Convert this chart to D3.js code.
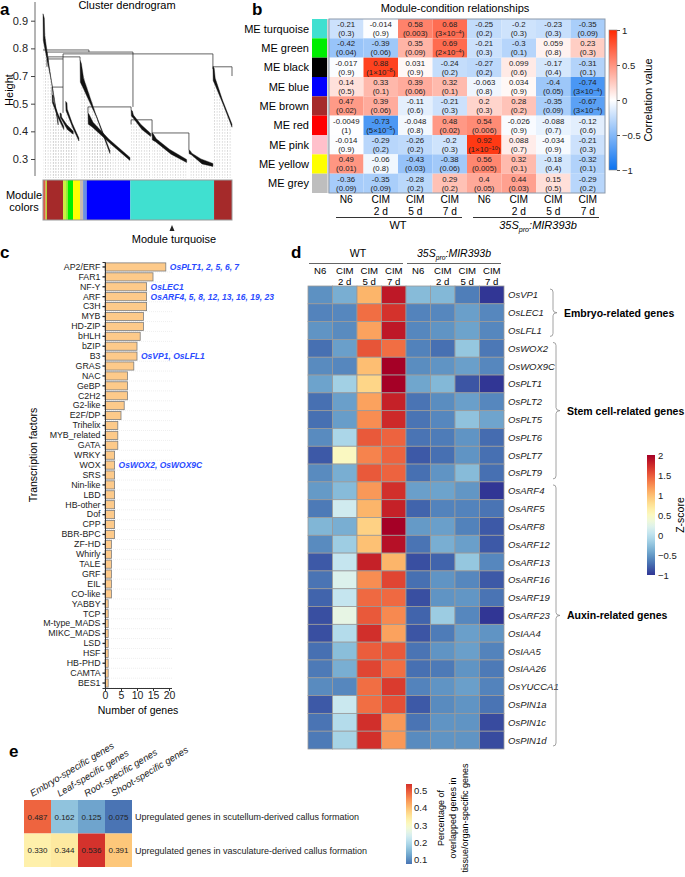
<!DOCTYPE html>
<html><head><meta charset="utf-8">
<script src="https://cdn.jsdelivr.net/npm/d3@7/dist/d3.min.js"></script>
<style>
body{margin:0;background:#fff}
svg{font-family:"Liberation Sans",Arial,Helvetica,sans-serif;}
</style></head><body>
<svg id="fig" width="685" height="877"></svg>
<script>
// ---------------- Panel a data ----------------
const dendroTickLabels = ["0.9","0.8","0.7","0.5","0.4","0.3"];
const dendroLinks = [
  {h:0.773,a:0,b:24.3,ha:0.773,hb:0.764},
  {h:0.764,a:2.1,b:47.6,ha:0.743,hb:0.526},
  {h:0.756,a:10.6,b:89.9,ha:0.734,hb:0.703},
  {h:0.743,a:2.6,b:19.6,ha:0.72,hb:0.73},
  {h:0.734,a:2.1,b:10.6,ha:0.70,hb:0.612},
  {h:0.612,a:4.8,b:10.6,ha:0.58,hb:0.50},
  {h:0.526,a:23.8,b:46.6,ha:0.50,hb:0.513},
  {h:0.47,a:46.6,b:57.7,ha:0.45,hb:0.413},
  {h:0.413,a:57.7,b:77.2,ha:0.40,hb:0.339},
  {h:0.70,a:89.9,b:100,ha:0.69,hb:0.66}
];
const dendroWedges = [
  {x0:0,h0:0.93,x1:8,h1:0.45},
  {x0:4.8,h0:0.58,x1:11,h1:0.43},
  {x0:9,h0:0.50,x1:16,h1:0.41},
  {x0:12,h0:0.55,x1:19,h1:0.38},
  {x0:19.6,h0:0.73,x1:35.4,h1:0.326},
  {x0:23.8,h0:0.50,x1:46,h1:0.296},
  {x0:46.6,h0:0.513,x1:57,h1:0.40},
  {x0:57.7,h0:0.413,x1:76,h1:0.287},
  {x0:77.2,h0:0.339,x1:89.9,h1:0.27},
  {x0:89.9,h0:0.703,x1:100,h1:0.44}
];
const moduleBarStarts = [0,1.4,2.1,10.6,12.2,13.2,15.9,19.6,21.2,23.1,46.2,90.5];
const moduleBarEnds   = [1.4,2.1,10.6,12.2,13.2,15.9,19.6,21.2,23.1,46.2,90.5,100];
const moduleBarColors = ["#e0584a","#b8d830","#a52a2a","#c8f040","#90ee30","#00ee00","#ffff00","#c8b8b0","#6a8fe0","#0000ff","#40e0d0","#a52a2a"];

// ---------------- Panel b data ----------------
const modules = ["ME turquoise","ME green","ME black","ME blue","ME brown","ME red","ME pink","ME yellow","ME grey"];
const moduleColors = ["#40E0D0","#00EE00","#000000","#0000FF","#A52A2A","#FF0000","#FFC0CB","#FFFF00","#BEBEBE"];
const condTop = ["N6","CIM","CIM","CIM","N6","CIM","CIM","CIM"];
const condBottom = ["","2 d","5 d","7 d","","2 d","5 d","7 d"];
const corrValues = [
  ["-0.21","-0.014","0.58","0.68","-0.25","-0.2","-0.23","-0.35"],
  ["-0.42","-0.39","0.35","0.69","-0.21","-0.3","0.059","0.23"],
  ["-0.017","0.88","0.031","-0.24","-0.27","0.099","-0.17","-0.31"],
  ["0.14","0.33","0.39","0.32","-0.063","0.034","-0.4","-0.74"],
  ["0.47","0.39","-0.11","-0.21","0.2","0.28","-0.35","-0.67"],
  ["-0.0049","-0.73","-0.048","0.48","0.54","-0.026","-0.088","-0.12"],
  ["-0.014","-0.29","-0.26","-0.2","0.92","0.088","-0.034","-0.21"],
  ["0.49","-0.06","-0.43","-0.38","0.56","0.32","-0.18","-0.32"],
  ["-0.36","-0.35","-0.28","0.29","0.4","0.44","0.15","-0.29"]
];
const corrP = [
  ["0.3","0.9","0.003","3e-4","0.2","0.3","0.3","0.09"],
  ["0.04","0.06","0.09","2e-4","0.3","0.1","0.8","0.3"],
  ["0.9","1e-8","0.9","0.2","0.2","0.6","0.4","0.1"],
  ["0.5","0.1","0.06","0.1","0.8","0.9","0.05","3e-4"],
  ["0.02","0.06","0.6","0.3","0.3","0.2","0.09","3e-4"],
  ["1","5e-5","0.8","0.02","0.006","0.9","0.7","0.6"],
  ["0.9","0.2","0.2","0.3","1e-10","0.7","0.9","0.3"],
  ["0.01","0.8","0.03","0.06","0.005","0.1","0.4","0.1"],
  ["0.09","0.09","0.2","0.2","0.05","0.03","0.5","0.2"]
];
const corrTicks = [1,0.5,0,-0.5,-1];

// ---------------- Panel c data ----------------
const tfNames = ["AP2/ERF","FAR1","NF-Y","ARF","C3H","MYB","HD-ZIP","bHLH","bZIP","B3","GRAS","NAC","GeBP","C2H2","G2-like","E2F/DP","Trihelix","MYB_related","GATA","WRKY","WOX","SRS","Nin-like","LBD","HB-other","Dof","CPP","BBR-BPC","ZF-HD","Whirly","TALE","GRF","EIL","CO-like","YABBY","TCP","M-type_MADS","MIKC_MADS","LSD","HSF","HB-PHD","CAMTA","BES1"];
const tfCounts = [19,15,13,13,13,12,12,11,10,10,9,7,7,7,6,5,4,4,4,3,3,3,3,3,3,3,3,3,2,2,2,2,2,2,1,1,1,1,1,1,1,1,1];
const tfNoteFamilies = ["AP2/ERF","NF-Y","ARF","B3","WOX"];
const tfNoteTexts = ["OsPLT1, 2, 5, 6, 7","OsLEC1","OsARF4, 5, 8, 12, 13, 16, 19, 23","OsVP1, OsLFL1","OsWOX2, OsWOX9C"];
const geneTicks = [0,5,10,15,20];

// ---------------- Panel d data ----------------
const genes = ["OsVP1","OsLEC1","OsLFL1","OsWOX2","OsWOX9C","OsPLT1","OsPLT2","OsPLT5","OsPLT6","OsPLT7","OsPLT9","OsARF4","OsARF5","OsARF8","OsARF12","OsARF13","OsARF16","OsARF19","OsARF23","OsIAA4","OsIAA5","OsIAA26","OsYUCCA1","OsPIN1a","OsPIN1c","OsPIN1d"];
const zScores = [
  [-0.55,-0.38,1.05,1.85,-0.3,-0.32,-0.65,-1.0],
  [-0.62,-0.6,1.4,1.7,-0.62,-0.6,-0.47,-0.6],
  [-0.53,-0.58,1.15,1.85,-0.6,-0.53,-0.45,-0.6],
  [-0.72,-0.47,1.52,1.4,-0.63,-0.72,-0.22,-0.68],
  [-0.58,-0.6,1.0,2.0,-0.57,-0.53,-0.47,-0.6],
  [-0.45,-0.15,0.85,2.0,-0.43,-0.32,-0.85,-1.0],
  [-0.72,-0.47,1.15,1.8,-0.7,-0.57,-0.47,-0.6],
  [-0.72,-0.48,1.25,1.75,-0.7,-0.6,-0.25,-0.44],
  [-0.58,-0.1,1.5,1.45,-0.7,-0.66,-0.53,-0.74],
  [-0.83,0.5,1.3,1.45,-0.83,-0.72,-0.53,-0.72],
  [-0.58,-0.38,1.5,1.45,-0.72,-0.53,-0.3,-0.72],
  [-0.5,-0.3,1.2,1.72,-0.47,-0.45,-0.52,-1.0],
  [-0.67,0.12,1.05,1.8,-0.78,-0.62,-0.62,-0.7],
  [-0.33,-0.38,0.88,2.0,-0.5,-0.47,-0.63,-0.83],
  [-0.58,-0.17,0.98,1.9,-0.7,-0.38,-0.47,-0.83],
  [-0.83,0.05,1.8,1.05,-0.88,-0.78,-0.22,-0.6],
  [-0.7,0.2,1.25,1.6,-0.72,-0.53,-0.6,-0.83],
  [-0.78,0.05,1.42,1.42,-0.88,-0.53,-0.52,-0.7],
  [-0.88,0.28,1.5,1.27,-0.78,-0.18,-0.6,-1.0],
  [-0.88,-0.05,1.72,1.15,-0.85,-0.66,-0.47,-0.53],
  [-0.72,-0.28,1.48,1.5,-0.7,-0.53,-0.47,-0.62],
  [-0.67,-0.38,1.6,1.4,-0.72,-0.67,-0.53,-0.67],
  [-0.58,-0.6,1.4,1.65,-0.62,-0.53,-0.47,-0.62],
  [-0.83,0.08,1.4,1.55,-0.83,-0.58,-0.53,-0.7],
  [-0.7,-0.05,1.72,1.2,-0.7,-0.53,-0.53,-0.9],
  [-0.67,-0.12,1.72,1.2,-0.58,-0.53,-0.53,-0.9]
];
const zTicks = [2,1.5,1,0.5,0,-0.5,-1];
const geneGroups = ["Embryo-related genes","Stem cell-related genes","Auxin-related genes"];
const geneGroupFirst = ["OsVP1","OsWOX2","OsARF4"];
const geneGroupLast = ["OsLFL1","OsPLT9","OsPIN1d"];

// ---------------- Panel e data ----------------
const tissues = ["Embryo-specific genes","Leaf-specific genes","Root-specific genes","Shoot-specific genes"];
const callusSets = ["Upregulated genes in scutellum-derived callus formation","Upregulated genes in vasculature-derived callus formation"];
const overlap = [[0.487,0.162,0.125,0.075],[0.330,0.344,0.536,0.391]];
const overlapTicks = [0.5,0.4,0.3,0.2,0.1];

// =====================================================
const svg = d3.select("#fig");
const defs = svg.append("defs");
function label(t,x,y){svg.append("text").attr("x",x).attr("y",y).attr("font-size",17).attr("font-weight","bold").text(t);}

// ---------------- Panel a ----------------
label("a",0,15);
const gA = svg.append("g");
const ax = d3.scaleLinear().domain([0,100]).range([43,232]);
const ay = d3.scaleLinear().domain([0.3,0.9]).range([159,20.7]);
const tickPos = d3.scalePoint().domain(dendroTickLabels).range([20.7,159]);
const pat = defs.append("pattern").attr("id","leafpat").attr("patternUnits","userSpaceOnUse").attr("width",2.6).attr("height",3);
pat.append("line").attr("x1",1.3).attr("x2",1.3).attr("y1",0).attr("y2",1.8).attr("stroke","#c4c4c4").attr("stroke-width",0.6);

gA.append("text").attr("x",127).attr("y",9).attr("text-anchor","middle").attr("font-size",11).text("Cluster dendrogram");
gA.append("line").attr("x1",35).attr("x2",35).attr("y1",2).attr("y2",176).attr("stroke","#444").attr("stroke-width",0.8);
const yAx = gA.append("g").attr("transform","translate(35,0)").call(d3.axisLeft(tickPos).tickSize(4).tickPadding(3));
yAx.select(".domain").remove();
yAx.selectAll("line").attr("stroke","#444");
yAx.selectAll("text").attr("font-size",11).attr("font-family","Liberation Sans, Arial, sans-serif").attr("fill","#222");
gA.append("text").attr("transform","translate(13,90) rotate(-90)").attr("text-anchor","middle").attr("font-size",11).text("Height");

gA.selectAll("polygon.guide").data(dendroWedges).join("polygon").attr("class","guide")
  .attr("points",d=>[[ax(d.x0),ay(d.h0)+4],[ax(d.x1),ay(d.h1)],[ax(d.x1),178],[ax(d.x0),178]].map(p=>p.join(",")).join(" "))
  .attr("fill","url(#leafpat)");
gA.selectAll("path.link").data(dendroLinks).join("path").attr("class","link")
  .attr("d",d=>`M${ax(d.a)},${ay(d.ha)}V${ay(d.h)}H${ax(d.b)}V${ay(d.hb)}`)
  .attr("fill","none").attr("stroke","#222").attr("stroke-width",0.7);
gA.selectAll("polygon.wedge").data(dendroWedges).join("polygon").attr("class","wedge")
  .attr("points",d=>{
    const x0=ax(d.x0),y0=ay(d.h0),x1=ax(d.x1),y1=ay(d.h1),w=x1-x0,h=y1-y0;
    return [[x0,y0],[x0+1.3,y0+h*0.04],[x0+w*0.12,y0+h*0.2],[x0+w*0.5,y0+h*0.56],[x1,y1-2.5],
            [x1,y1+0.5],[x0+w*0.55,y0+h*0.56+5],[x0+w*0.1,y0+h*0.3],[x0+0.3,y0+h*0.24]].map(p=>p.join(",")).join(" ");
  }).attr("fill","#111").attr("stroke","#111").attr("stroke-width",0.4);
gA.selectAll("rect.mod").data(moduleBarColors).join("rect").attr("class","mod")
  .attr("x",(d,i)=>ax(moduleBarStarts[i])).attr("width",(d,i)=>ax(moduleBarEnds[i])-ax(moduleBarStarts[i]))
  .attr("y",180).attr("height",40).attr("fill",d=>d);
gA.append("rect").attr("x",43).attr("y",180).attr("width",189).attr("height",40).attr("fill","none").attr("stroke","#999").attr("stroke-width",1);
gA.append("text").attr("x",24).attr("y",199).attr("text-anchor","middle").attr("font-size",11).text("Module");
gA.append("text").attr("x",24).attr("y",211).attr("text-anchor","middle").attr("font-size",11).text("colors");
gA.append("path").attr("d","M172,225L169.5,231L174.5,231Z").attr("fill","#222");
gA.append("text").attr("x",174).attr("y",243).attr("text-anchor","middle").attr("font-size",11).text("Module turquoise");

// ---------------- Panel b ----------------
label("b",252,15);
const gB = svg.append("g");
const bx = d3.scaleBand().domain(d3.range(8)).range([329,605]);
const by = d3.scaleBand().domain(modules).range([19,193]);
const corrColor = d3.scaleLinear().domain([-1,0,1]).range(["#0a72f0","#ffffff","#ff2800"]);
gB.append("text").attr("x",455).attr("y",12).attr("text-anchor","middle").attr("font-size",11).text("Module-condition relationships");
gB.selectAll("rect.mc").data(modules).join("rect").attr("class","mc")
  .attr("x",312).attr("width",15).attr("y",d=>by(d)).attr("height",by.bandwidth()).attr("fill",(d,i)=>moduleColors[i]);
gB.append("rect").attr("x",327).attr("y",19).attr("width",2).attr("height",174).attr("fill","#d8d8d8");
gB.selectAll("text.rl").data(modules).join("text").attr("class","rl")
  .attr("x",309).attr("y",d=>by(d)+by.bandwidth()/2+4).attr("text-anchor","end").attr("font-size",11).text(d=>d);
const cells = [];
corrValues.forEach((row,i)=>row.forEach((v,j)=>cells.push({i,j,v,p:corrP[i][j]})));
gB.selectAll("rect.cell").data(cells).join("rect").attr("class","cell")
  .attr("x",d=>bx(d.j)).attr("y",d=>by(modules[d.i])).attr("width",bx.bandwidth()).attr("height",by.bandwidth())
  .attr("fill",d=>corrColor(+d.v));
gB.append("rect").attr("x",329).attr("y",19).attr("width",276).attr("height",174).attr("fill","none").attr("stroke","#8c9aab").attr("stroke-width",1);
const ct = gB.selectAll("g.ct").data(cells).join("g").attr("class","ct")
  .attr("transform",d=>`translate(${bx(d.j)+bx.bandwidth()/2},${by(modules[d.i])})`);
ct.append("text").attr("y",8).attr("text-anchor","middle").attr("font-size",7.8).attr("fill","#222").text(d=>d.v);
ct.each(function(d){
  const t = d3.select(this).append("text").attr("y",17).attr("text-anchor","middle").attr("font-size",7.8).attr("fill","#222");
  if(d.p.includes("e")){
    const [m,e]=d.p.split("e");
    t.append("tspan").text("("+m+"×10");
    t.append("tspan").attr("dy",-2.5).attr("font-size",5.5).text(e.replace("-","−"));
    t.append("tspan").attr("dy",2.5).text(")");
  } else t.text("("+d.p+")");
});
gB.selectAll("text.c1").data(condTop).join("text").attr("class","c1")
  .attr("x",(d,i)=>bx(i)+bx.bandwidth()/2).attr("y",203).attr("text-anchor","middle").attr("font-size",10.2).text(d=>d);
gB.selectAll("text.c2").data(condBottom).join("text").attr("class","c2")
  .attr("x",(d,i)=>bx(i)+bx.bandwidth()/2).attr("y",214.5).attr("text-anchor","middle").attr("font-size",10.2).text(d=>d);
gB.append("line").attr("x1",336).attr("x2",462).attr("y1",217.5).attr("y2",217.5).attr("stroke","#333");
gB.append("line").attr("x1",473).attr("x2",599).attr("y1",217.5).attr("y2",217.5).attr("stroke","#333");
gB.append("text").attr("x",398).attr("y",228.5).attr("text-anchor","middle").attr("font-size",11).text("WT");
function mir(g,x,y,fs){
  const t=g.append("text").attr("x",x).attr("y",y).attr("text-anchor","middle").attr("font-size",fs).attr("font-style","italic");
  t.append("tspan").text("35S");
  t.append("tspan").attr("dy",2.5).attr("font-size",fs*0.65).text("pro");
  t.append("tspan").attr("dy",-2.5).text(":MIR393b");
}
mir(gB,538,229,11);
const gradB = defs.append("linearGradient").attr("id","gradB").attr("x1",0).attr("x2",0).attr("y1",1).attr("y2",0);
d3.range(0,1.0001,0.1).forEach(t=>gradB.append("stop").attr("offset",t).attr("stop-color",corrColor(-1+2*t)));
const cbY = d3.scaleLinear().domain([-1,1]).range([170,30]);
gB.append("rect").attr("x",609).attr("y",30).attr("width",8).attr("height",140).attr("fill","url(#gradB)").attr("stroke","#888").attr("stroke-width",0.6);
const cbAx = gB.append("g").attr("transform","translate(617,0)").call(d3.axisRight(cbY).tickValues(corrTicks).tickSize(3).tickPadding(2).tickFormat(d3.format("")));
cbAx.select(".domain").remove();
cbAx.selectAll("line").attr("stroke","#555");
cbAx.selectAll("text").attr("font-size",9.5).attr("font-family","Liberation Sans, Arial, sans-serif").attr("fill","#222");
gB.append("text").attr("transform","translate(652,100) rotate(-90)").attr("text-anchor","middle").attr("font-size",11).text("Correlation value");

// ---------------- Panel c ----------------
label("c",0,258);
const gC = svg.append("g");
const cx = d3.scaleLinear().domain([0,20]).range([105,169]);
const cy = d3.scaleBand().domain(tfNames).range([262,688]).paddingInner(0.18).paddingOuter(0.09);
gC.selectAll("line.grid").data(tfNames).join("line").attr("class","grid")
  .attr("x1",105).attr("x2",172).attr("y1",d=>cy(d)+cy.bandwidth()+1).attr("y2",d=>cy(d)+cy.bandwidth()+1)
  .attr("stroke","#e4e4e4").attr("stroke-width",0.6).attr("stroke-dasharray","1,1");
gC.selectAll("rect.bar").data(tfNames).join("rect").attr("class","bar")
  .attr("x",cx(0)).attr("y",d=>cy(d)).attr("height",cy.bandwidth())
  .attr("width",(d,i)=>cx(tfCounts[i])-cx(0)).attr("fill","#fdca8a").attr("stroke","#7d7d7d").attr("stroke-width",0.8);
const cyAx = gC.append("g").attr("transform","translate(105,0)").call(d3.axisLeft(cy).tickSize(2.5).tickPadding(2));
cyAx.select(".domain").attr("stroke","#333");
cyAx.selectAll("line").attr("stroke","#222").attr("stroke-width",1.3);
cyAx.selectAll("text").attr("font-size",8.8).attr("font-family","Liberation Sans, Arial, sans-serif").attr("fill","#222");
const cxAx = gC.append("g").attr("transform","translate(0,688)").call(d3.axisBottom(cx).tickValues(geneTicks).tickSize(3).tickPadding(1));
cxAx.select(".domain").attr("stroke","#333").attr("d","M105,0.5H172");
cxAx.selectAll("line").attr("stroke","#333");
cxAx.selectAll("text").attr("font-size",10.5).attr("font-family","Liberation Sans, Arial, sans-serif").attr("fill","#222");
gC.append("text").attr("x",138).attr("y",714).attr("text-anchor","middle").attr("font-size",10.5).text("Number of genes");
gC.append("text").attr("transform","translate(37,455) rotate(-90)").attr("text-anchor","middle").attr("font-size",10.5).text("Transcription factors");
gC.selectAll("text.note").data(tfNoteFamilies).join("text").attr("class","note")
  .attr("x",d=>cx(tfCounts[tfNames.indexOf(d)])+4).attr("y",d=>cy(d)+cy.bandwidth()/2+3)
  .attr("font-size",8.5).attr("font-weight","bold").attr("font-style","italic").attr("fill","#2a4bff")
  .text((d,i)=>tfNoteTexts[i]);

// ---------------- Panel d ----------------
label("d",291,258);
const gD = svg.append("g");
const dx = d3.scaleBand().domain(d3.range(8)).range([308,504]);
const dy = d3.scaleBand().domain(genes).range([286,749]);
const zColor = d3.scaleSequential(t=>d3.interpolateRdYlBu(1-t)).domain([-1,2]);
gD.append("text").attr("x",358).attr("y",257).attr("text-anchor","middle").attr("font-size",10.5).text("WT");
mir(gD,454,257,10.5);
gD.append("line").attr("x1",309).attr("x2",403).attr("y1",263.5).attr("y2",263.5).attr("stroke","#666");
gD.append("line").attr("x1",407).attr("x2",501).attr("y1",263.5).attr("y2",263.5).attr("stroke","#666");
gD.selectAll("text.c1").data(condTop).join("text").attr("class","c1")
  .attr("x",(d,i)=>dx(i)+dx.bandwidth()/2).attr("y",274).attr("text-anchor","middle").attr("font-size",9.6).text(d=>d);
gD.selectAll("text.c2").data(condBottom).join("text").attr("class","c2")
  .attr("x",(d,i)=>dx(i)+dx.bandwidth()/2).attr("y",285).attr("text-anchor","middle").attr("font-size",9.6).text(d=>d);
const zcells=[];
zScores.forEach((row,i)=>row.forEach((v,j)=>zcells.push({i,j,v})));
gD.selectAll("rect.z").data(zcells).join("rect").attr("class","z")
  .attr("x",d=>dx(d.j)).attr("y",d=>dy(genes[d.i])).attr("width",dx.bandwidth()).attr("height",dy.bandwidth())
  .attr("fill",d=>zColor(d.v)).attr("stroke","#9a9a9a").attr("stroke-width",0.8);
gD.selectAll("text.gene").data(genes).join("text").attr("class","gene")
  .attr("x",508).attr("y",d=>dy(d)+dy.bandwidth()/2+3.5).attr("font-size",9.5).attr("font-style","italic").attr("fill","#222").text(d=>d);
function brace(g,x,y0,y1){
  const ym=(y0+y1)/2;
  g.append("path").attr("d",`M${x-3},${y0}Q${x},${y0} ${x},${y0+3}V${ym-3}Q${x},${ym} ${x+4},${ym}Q${x},${ym} ${x},${ym+3}V${y1-3}Q${x},${y1} ${x-3},${y1}`)
    .attr("fill","none").attr("stroke","#8a8a8a").attr("stroke-width",0.8);
  return ym;
}
const braceX=[553,556,556];
geneGroups.forEach((gname,k)=>{
  const y0=dy(geneGroupFirst[k])+3, y1=dy(geneGroupLast[k])+dy.bandwidth()-3;
  const ym=brace(gD,braceX[k],y0,y1);
  gD.append("text").attr("x",braceX[k]+11).attr("y",ym+4).attr("font-size",10.5).attr("font-weight","bold").text(gname);
});
const gradD = defs.append("linearGradient").attr("id","gradD").attr("x1",0).attr("x2",0).attr("y1",1).attr("y2",0);
d3.range(0,1.0001,0.05).forEach(t=>gradD.append("stop").attr("offset",t).attr("stop-color",zColor(-1+3*t)));
const zY = d3.scaleLinear().domain([-1,2]).range([575,455]);
gD.append("rect").attr("x",647).attr("y",455).attr("width",8).attr("height",120).attr("fill","url(#gradD)");
const zAx = gD.append("g").attr("transform","translate(655,0)").call(d3.axisRight(zY).tickValues(zTicks).tickSize(0).tickPadding(3).tickFormat(d3.format("")));
zAx.select(".domain").remove();
zAx.selectAll("text").attr("font-size",9.5).attr("font-family","Liberation Sans, Arial, sans-serif").attr("fill","#222");
gD.append("text").attr("transform","translate(684,515) rotate(-90)").attr("text-anchor","middle").attr("font-size",10.5).text("Z-score");

// ---------------- Panel e ----------------
label("e",9,757);
const gE = svg.append("g");
const ex = d3.scaleBand().domain(tissues).range([24,132]);
const ey = d3.scaleBand().domain(callusSets).range([800,867]);
const oColor = d3.scaleSequential(t=>d3.interpolateRdYlBu(0.9-0.8*t)).domain([0.075,0.536]);
const ecells=[];
overlap.forEach((row,i)=>row.forEach((v,j)=>ecells.push({i,j,v})));
gE.selectAll("rect.o").data(ecells).join("rect").attr("class","o")
  .attr("x",d=>ex(tissues[d.j])).attr("y",d=>ey(callusSets[d.i])).attr("width",ex.bandwidth()).attr("height",ey.bandwidth())
  .attr("fill",d=>oColor(d.v));
gE.selectAll("text.ov").data(ecells).join("text").attr("class","ov")
  .attr("x",d=>ex(tissues[d.j])+ex.bandwidth()/2).attr("y",d=>ey(callusSets[d.i])+ey.bandwidth()/2+3)
  .attr("text-anchor","middle").attr("font-size",8).attr("fill","#222").text(d=>d3.format(".3f")(d.v));
gE.selectAll("text.rowl").data(callusSets).join("text").attr("class","rowl")
  .attr("x",135).attr("y",d=>ey(d)+ey.bandwidth()/2+3.5).attr("font-size",9).attr("fill","#222").text(d=>d);
gE.selectAll("text.coll").data(tissues).join("text").attr("class","coll")
  .attr("transform",d=>`translate(${ex(d)+ex.bandwidth()/2-5},797) rotate(-31)`)
  .attr("font-size",9.5).attr("font-style","italic").attr("fill","#222").text(d=>d);
const gradE = defs.append("linearGradient").attr("id","gradE").attr("x1",0).attr("x2",0).attr("y1",1).attr("y2",0);
d3.range(0,1.0001,0.05).forEach(t=>gradE.append("stop").attr("offset",t).attr("stop-color",oColor(0.075+(0.536-0.075)*t)));
const oY = d3.scaleLinear().domain([0.075,0.536]).range([864,784]);
gE.append("rect").attr("x",406).attr("y",784).attr("width",6).attr("height",80).attr("fill","url(#gradE)");
const oAx = gE.append("g").attr("transform","translate(412,0)").call(d3.axisRight(oY).tickValues(overlapTicks).tickSize(0).tickPadding(2).tickFormat(d3.format("")));
oAx.select(".domain").remove();
oAx.selectAll("text").attr("font-size",9.5).attr("font-family","Liberation Sans, Arial, sans-serif").attr("fill","#222");
["Percentage of","overlapped genes in","tissue/organ-specific genes"].forEach((t,k)=>{
  gE.append("text").attr("transform",`translate(${444+k*12},818) rotate(-90)`).attr("text-anchor","middle").attr("font-size",9).text(t);
});
</script>
</body></html>
